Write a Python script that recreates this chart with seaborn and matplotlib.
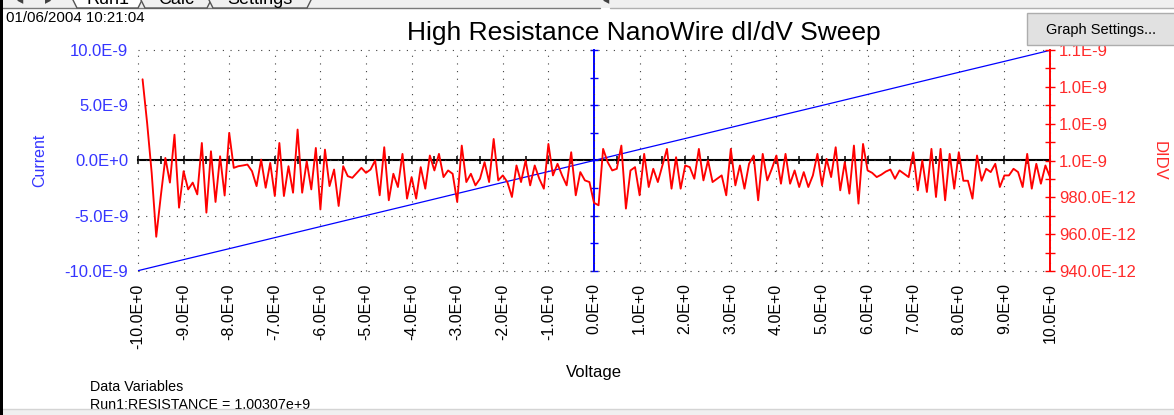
import numpy as np
import pandas as pd
import matplotlib
matplotlib.use("Agg")
import matplotlib.pyplot as plt
import seaborn as sns
from matplotlib.patches import Rectangle, Polygon
from matplotlib.lines import Line2D
from matplotlib.ticker import MultipleLocator, FuncFormatter

# ---- data -------------------------------------------------------------
# I-V sweep: voltage (V) and measured current (nA)
sweep_v = list(range(-10, 11))
current_na = [-9.97, -8.97, -7.98, -6.98, -5.98, -4.98, -3.99, -2.99, -1.99, -1.00,
              0.00, 1.00, 1.99, 2.99, 3.99, 4.98, 5.98, 6.98, 7.98, 8.97, 9.97]

# differential conductance dI/dV (pS), one value per 0.1 V step from -9.9 V to 10.0 V
didv_v = [round(-9.9 + 0.1 * i, 1) for i in range(200)]
didv_ps = [
    1044.1, 1020.4, 993.3, 958.6, 980.7, 1001.4, 988.0, 1014.0, 974.4, 994.2,
    984.3, 988.0, 981.6, 1009.5, 971.7, 1005.0, 977.5, 1002.3, 981.0, 1015.0,
    996.0, 996.9, 997.3, 997.8, 994.2, 986.1, 1000.5, 985.2, 998.7, 980.7,
    1009.5, 980.7, 996.9, 982.5, 1016.8, 982.5, 999.6, 984.3, 1006.8, 973.5,
    1005.9, 986.1, 995.1, 975.3, 996.9, 991.5, 990.6, 993.3, 996.0, 993.3,
    995.1, 1000.0, 981.1, 1007.2, 978.4, 992.8, 985.6, 1003.6, 979.3, 991.0,
    979.3, 996.4, 984.7, 1002.7, 994.6, 1003.6, 991.0, 994.6, 992.8, 977.5,
    1008.1, 988.3, 992.8, 986.5, 990.1, 999.1, 988.3, 1011.7, 989.2, 991.9,
    988.3, 980.2, 997.3, 988.3, 1000.0, 986.5, 997.3, 990.1, 984.7, 1009.0,
    991.9, 998.2, 991.9, 986.5, 1004.5, 981.1, 993.7, 989.2, 988.3, 977.0,
    975.7, 1006.3, 999.1, 994.6, 995.5, 1008.1, 973.9, 994.6, 996.4, 981.1,
    1003.6, 985.6, 995.5, 988.3, 997.3, 1006.3, 984.7, 1001.8, 984.7, 997.3,
    996.4, 990.1, 1006.3, 989.2, 1000.0, 988.3, 990.1, 991.9, 981.1, 1006.3,
    986.5, 997.3, 984.7, 998.2, 1002.7, 978.4, 1003.6, 989.2, 995.5, 1002.7,
    987.4, 1003.6, 987.4, 994.6, 985.6, 993.7, 985.6, 991.9, 1003.6, 986.5,
    1000.9, 991.0, 1007.2, 983.8, 999.1, 982.0, 1008.1, 976.6, 1009.0, 994.6,
    993.3, 991.0, 992.3, 994.0, 995.1, 990.1, 994.6, 992.8, 991.0, 1004.5,
    983.8, 1000.0, 982.9, 1006.3, 980.2, 1006.3, 978.4, 1003.6, 984.7, 1004.5,
    989.0, 989.0, 979.3, 1002.7, 989.0, 995.5, 993.7, 998.2, 985.6, 991.9,
    991.9, 995.5, 993.7, 985.6, 1003.6, 984.7, 998.2, 987.4, 997.3, 991.0,
]

title = "High Resistance NanoWire dI/dV Sweep"
timestamp = "01/06/2004 10:21:04"
resistance_text = "Run1:RESISTANCE = 1.00307e+9"

BLUE = "#0000ff"
BLUE_TXT = "#3535ff"
RED = "#ff0000"
RED_TXT = "#ff2a2a"

# ---- style ------------------------------------------------------------
sns.set_theme(style="white")
plt.rcParams["font.family"] = ["Liberation Sans", "DejaVu Sans"]
plt.rcParams["axes.unicode_minus"] = False

W, H = 1174, 415
fig = plt.figure(figsize=(W / 100, H / 100), dpi=100)
fig.patch.set_facecolor("white")


def fx(px):
    return px / W


def fy(py):
    return 1 - py / H


def eng(v, pos=None):
    if abs(v) < 1e-30:
        return "0.0E+0"
    e = int(np.floor(np.log10(abs(v)) / 3 + 1e-9)) * 3
    return f"{v / 10 ** e:.1f}E{e:+d}"


iv = pd.DataFrame({"Voltage": sweep_v, "Current": np.array(current_na) * 1e-9})
dd = pd.DataFrame({"Voltage": didv_v, "DIDV": np.array(didv_ps) * 1e-12})

ax = fig.add_axes([fx(138), fy(271), fx(1050) - fx(138), fy(50) - fy(271)])
ax.set_facecolor("white")
ax2 = ax.twinx()

sns.lineplot(data=iv, x="Voltage", y="Current", ax=ax, color=BLUE, linewidth=0.9)
sns.lineplot(data=dd, x="Voltage", y="DIDV", ax=ax2, color=RED, linewidth=1.35)

ax.set_xlim(-10, 10)
ax.set_ylim(-10e-9, 10e-9)
ax2.set_ylim(940e-12, 1060e-12)

# main axis: dotted grid, labels only
ax.xaxis.set_major_locator(MultipleLocator(1))
ax.yaxis.set_major_locator(MultipleLocator(5e-9))
ax.xaxis.set_major_formatter(FuncFormatter(eng))
ax.yaxis.set_major_formatter(FuncFormatter(eng))
ax.tick_params(axis="both", which="both", length=0)
ax.tick_params(axis="y", labelcolor=BLUE_TXT, labelsize=12, pad=7)
ax.tick_params(axis="x", labelcolor="black", labelsize=11.5, labelrotation=90, pad=9)
for s in ax.spines.values():
    s.set_visible(False)
ax.grid(True, which="major", color="#404040", linewidth=0.8, linestyle=(0, (1, 5.9)))
ax.set_axisbelow(True)
for gl in ax.get_xgridlines() + ax.get_ygridlines():
    gl.set_clip_on(False)

ax.set_xlabel("Voltage", fontsize=12, color="black")
ax.xaxis.set_label_coords(0.5, (271 - 365) / 221)
ax.set_ylabel("Current", fontsize=11.5, color=BLUE_TXT, va="center")
ax.yaxis.set_label_coords((40 - 138) / 912, 0.5)

# right axis in red
for k, s in ax2.spines.items():
    s.set_visible(k == "right")
ax2.spines["right"].set_color(RED)
ax2.spines["right"].set_linewidth(1.4)
ax2.yaxis.set_major_locator(MultipleLocator(20e-12))
ax2.yaxis.set_minor_locator(MultipleLocator(10e-12))
ax2.yaxis.set_major_formatter(FuncFormatter(eng))
ax2.tick_params(axis="y", which="both", direction="inout", length=7, width=1,
                color=RED, labelcolor=RED_TXT, labelsize=12, pad=3)
ax2.set_ylabel("DIDV", fontsize=12, color=RED_TXT, rotation=270, va="center")
ax2.yaxis.set_label_coords((1159 - 138) / 912, 0.5)

# zero-current axis (black) and zero-voltage axis (blue) crossing in the middle
sec_x = ax.secondary_xaxis(0.5)
sec_x.xaxis.set_major_locator(MultipleLocator(0.5))
sec_x.tick_params(axis="x", which="both", direction="inout", length=6, width=1.1,
                  color="black", labelbottom=False, labeltop=False)
for s in sec_x.spines.values():
    s.set_color("black")
    s.set_linewidth(1.5)

sec_y = ax.secondary_yaxis(0.5)
sec_y.yaxis.set_major_locator(MultipleLocator(2.5e-9))
sec_y.tick_params(axis="y", which="both", direction="inout", length=6, width=1,
                  color=BLUE, labelleft=False, labelright=False)
for s in sec_y.spines.values():
    s.set_color(BLUE)
    s.set_linewidth(1.4)

# ---- titles and panel text ---------------------------------------------
fig.text(fx(643.5), fy(33), title, ha="center", va="center", fontsize=19, color="black")
fig.text(fx(6), fy(18), timestamp, ha="left", va="center", fontsize=10.8, color="black")
fig.text(fx(90), fy(387), "Data Variables", ha="left", va="center", fontsize=10.3, color="black")
fig.text(fx(90), fy(405), resistance_text, ha="left", va="center", fontsize=10.3, color="black")

# ---- surrounding window furniture -------------------------------------
def frect(x0, y0, x1, y1, **kw):
    fig.add_artist(Rectangle((fx(x0), fy(y1)), fx(x1) - fx(x0), fy(y0) - fy(y1),
                             transform=fig.transFigure, **kw))


# tab strip at the top
frect(0, 0, W, 8, facecolor="#f0f0f0", edgecolor="none", zorder=20)
fig.add_artist(Line2D([fx(0), fx(600)], [fy(8.5), fy(8.5)], transform=fig.transFigure,
                      color="#7a7a7a", lw=1, zorder=21))
fig.add_artist(Line2D([fx(610), fx(W)], [fy(8.5), fy(8.5)], transform=fig.transFigure,
                      color="#b0b0b0", lw=1, zorder=21))
tabs = [(72, 143, "Run1", "white"), (140, 212, "Calc", "#f0f0f0"), (208, 312, "Settings", "#f0f0f0")]
for x0, x1, name, fc in tabs:
    fig.add_artist(Polygon([(fx(x0), fy(-2)), (fx(x0 + 5), fy(8)), (fx(x1 - 5), fy(8)), (fx(x1), fy(-2))],
                           closed=False, transform=fig.transFigure, facecolor=fc,
                           edgecolor="#555555", lw=1, zorder=22))
    fig.text(fx((x0 + x1) / 2), fy(4.5), name, ha="center", va="baseline", fontsize=13,
             color="black", zorder=23)
fig.text(fx(20), fy(4.5), "\u25c2", ha="center", va="baseline", fontsize=9, color="#404040", zorder=23)
fig.text(fx(48), fy(4.5), "\u25b8", ha="center", va="baseline", fontsize=9, color="#404040", zorder=23)
fig.text(fx(606), fy(4.5), "\u25c2", ha="center", va="baseline", fontsize=9, color="#404040", zorder=23)

# left window border
frect(0, 0, 3, H, facecolor="black", edgecolor="none", zorder=24)

# bottom strip
frect(0, 409, W, H, facecolor="#f0f0f0", edgecolor="none", zorder=20)
fig.add_artist(Line2D([fx(0), fx(W)], [fy(409), fy(409)], transform=fig.transFigure,
                      color="#d4d4d4", lw=1, zorder=21))

# settings button
frect(1027, 13, W + 2, 45, facecolor="#e1e1e1", edgecolor="#adadad", lw=1, zorder=25)
fig.text(fx(1046), fy(30), "Graph Settings...", ha="left", va="center", fontsize=10.5,
         color="black", zorder=26)

fig.savefig("out.png", dpi=100)
